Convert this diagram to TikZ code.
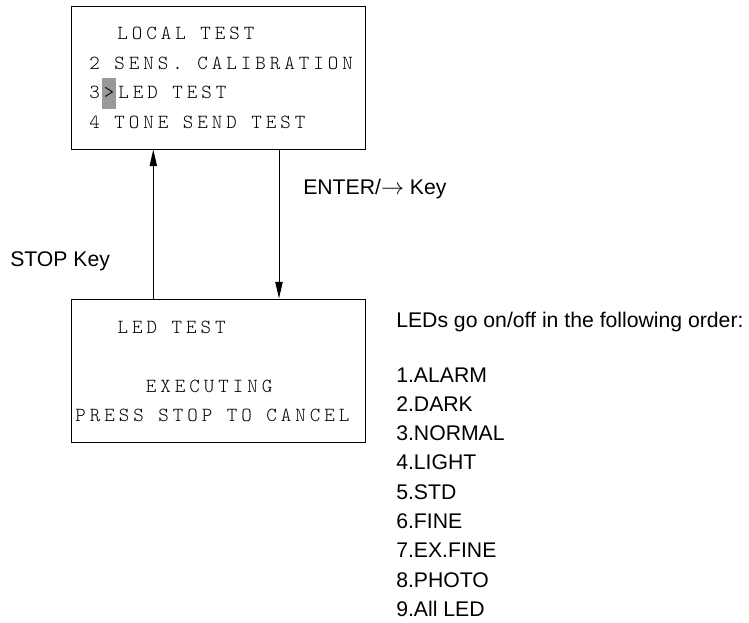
\documentclass[tikz,border=0pt]{standalone}
\usepackage{fontspec}
\setmainfont{Liberation Sans}
\newfontfamily\lcdfont{lmmonolt10-regular.otf}[LetterSpace=20]
\usetikzlibrary{arrows.meta,positioning}
\definecolor{cursorgray}{HTML}{999999}

\begin{document}
\begin{tikzpicture}[x=.75pt,y=-.75pt,
  lcdbox/.style={draw,line width=.75pt,minimum width=220.5pt,minimum height=107.25pt,inner sep=0pt},
  lcdline/.style={anchor=base west,inner sep=0pt,font=\lcdfont\fontsize{15pt}{18pt}\selectfont},
  keylabel/.style={anchor=base west,inner sep=0pt,font=\fontsize{15.9pt}{18pt}\selectfont},
  flow/.style={line width=.75pt,-{Triangle[length=12.5pt,width=5.5pt]}}]
\useasboundingbox (0,0) rectangle (749,622);
% menu screen
\node[lcdbox] (menu) at (218,77.5) {};
\node[fill=cursorgray,minimum width=10.5pt,minimum height=23.25pt,inner sep=0pt] (cursor) at (108.7,93.3) {};
\node[lcdline] (menu0) at (117.2,39.5) {LOCAL TEST};
\node[lcdline] (menu2) at (89,69) {2 SENS. CALIBRATION};
\node[lcdline] (menu3) at (89,98.5) {3>LED TEST};
\node[lcdline] (menu4) at (89,128) {4 TONE SEND TEST};
% test screen
\node[lcdbox] (ledtest) at (218,370.5) {};
\node[lcdline] (test1) at (117.3,333.3) {LED TEST};
\node[lcdline] (test3) at (145.5,392.5) {EXECUTING};
\node[lcdline] (test4) at (75,421.7) {PRESS STOP TO CANCEL};
% keys
\coordinate (stopx) at (153.3,0);
\coordinate (enterx) at (279,0);
\draw[flow] (ledtest.north -| stopx) -- (menu.south -| stopx);
\draw[flow] (menu.south -| enterx) -- (ledtest.north -| enterx);
\node[keylabel] (stopkey) at (10,266) {STOP Key};
\node[keylabel] (enterkey) at (303,194) {ENTER/$\rightarrow$ Key};
% order of the LEDs
\node[keylabel] (order) at (396,327.3) {LEDs go on/off in the following order:};
\foreach \i/\name in {1/ALARM,2/DARK,3/NORMAL,4/LIGHT,5/STD,6/FINE,7/EX.FINE,8/PHOTO,9/All LED}
  \node[keylabel] (led\i) at (396,{382+29.3*(\i-1)}) {\i.\name};
\end{tikzpicture}
\end{document}
